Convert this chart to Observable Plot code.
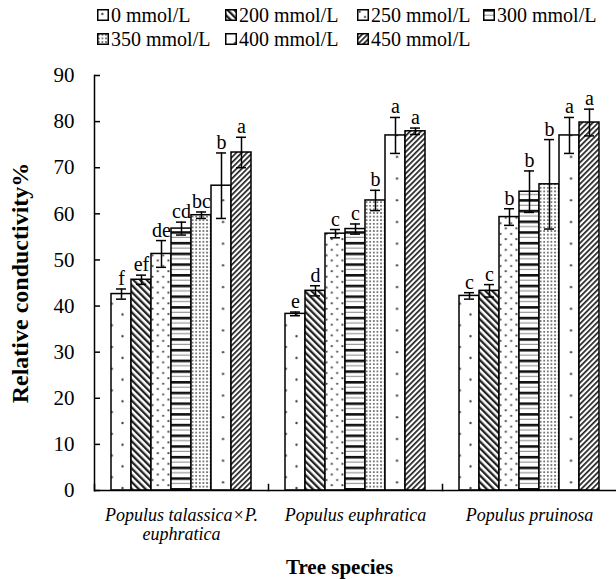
<!DOCTYPE html>
<html>
<head>
<meta charset="utf-8">
<script src="https://cdn.jsdelivr.net/npm/d3@7"></script>
<script src="https://cdn.jsdelivr.net/npm/@observablehq/plot@0.6"></script>
<style>
  body { margin: 0; background: #fff; }
  #wrap, #wrap * { font-family: 'Liberation Serif', 'Times New Roman', serif !important; }
  #wrap { width: 616px; height: 579px; position: relative; overflow: hidden; }
  #legend { height: 60px; box-sizing: border-box; padding-top: 3px; padding-left: 97px;
            display: grid; grid-template-columns: 128px 132px 126px 130px; grid-auto-rows: 24px; }
  .item { display: flex; align-items: center; font-size: 20px; line-height: 24px; white-space: nowrap; color: #000; }
  .item svg { margin-right: 2px; flex: none; }
</style>
</head>
<body>
<div id="wrap">
  <svg width="0" height="0" style="position:absolute">
    <defs>
      <pattern id="p0" patternUnits="userSpaceOnUse" width="21.3" height="21.7">
        <rect width="21.3" height="21.7" fill="#fff"/>
        <circle cx="5.3" cy="5" r="1.2" fill="#444"/>
        <circle cx="16" cy="15.8" r="1.2" fill="#444"/>
      </pattern>
      <pattern id="p200" patternUnits="userSpaceOnUse" width="4.8" height="4.8" patternTransform="rotate(-45)">
        <rect width="4.8" height="4.8" fill="#fff"/>
        <rect width="2.3" height="4.8" fill="#222"/>
      </pattern>
      <pattern id="p250" patternUnits="userSpaceOnUse" width="10.7" height="10.7">
        <rect width="10.7" height="10.7" fill="#fff"/>
        <circle cx="2.7" cy="2.7" r="1.1" fill="#444"/>
        <circle cx="8" cy="8" r="1.1" fill="#444"/>
      </pattern>
      <pattern id="p300" patternUnits="userSpaceOnUse" width="10" height="10.7">
        <rect width="10" height="10.7" fill="#fff"/>
        <rect y="0" width="10" height="2.6" fill="#111"/>
        <rect y="5.6" width="10" height="1.2" fill="#999"/>
      </pattern>
      <pattern id="p350" patternUnits="userSpaceOnUse" width="3.6" height="3.6">
        <rect width="3.6" height="3.6" fill="#fff"/>
        <circle cx="1.8" cy="1.8" r="0.95" fill="#555"/>
      </pattern>
      <pattern id="p400" patternUnits="userSpaceOnUse" width="21.3" height="21.7">
        <rect width="21.3" height="21.7" fill="#fff"/>
        <circle cx="10" cy="10" r="1.2" fill="#444"/>
      </pattern>
      <pattern id="p450" patternUnits="userSpaceOnUse" width="3.8" height="3.8" patternTransform="rotate(45)">
        <rect width="3.8" height="3.8" fill="#fff"/>
        <rect width="1.7" height="3.8" fill="#222"/>
      </pattern>
    </defs>
  </svg>
  <div id="legend"></div>
  <div id="chart"></div>
</div>
<script>
// ---- data ----
const species = ["Populus talassica×P. euphratica", "Populus euphratica", "Populus pruinosa"];
const speciesTickLabels = ["Populus talassica×P.\neuphratica", "Populus euphratica", "Populus pruinosa"];
const concentrations = ["0 mmol/L", "200 mmol/L", "250 mmol/L", "300 mmol/L", "350 mmol/L", "400 mmol/L", "450 mmol/L"];
const patternIds = ["p0", "p200", "p250", "p300", "p350", "p400", "p450"];

const valuesTalassica = [42.6, 45.7, 51.3, 56.8, 59.7, 66.1, 73.3];
const valuesEuphratica = [38.3, 43.3, 55.7, 56.7, 62.9, 77.0, 77.9];
const valuesPruinosa = [42.2, 43.3, 59.3, 64.8, 66.4, 77.0, 79.8];

const errorsTalassica = [1.1, 1.0, 2.9, 1.4, 0.7, 7.1, 3.3];
const errorsEuphratica = [0.4, 1.1, 0.9, 1.1, 2.2, 3.9, 0.7];
const errorsPruinosa = [0.7, 1.35, 1.8, 4.5, 9.7, 3.9, 2.9];

const lettersTalassica = ["f", "ef", "de", "cd", "bc", "b", "a"];
const lettersEuphratica = ["e", "d", "c", "c", "b", "a", "a"];
const lettersPruinosa = ["c", "c", "b", "b", "b", "a", "a"];

const yTicks = [0, 10, 20, 30, 40, 50, 60, 70, 80, 90];
const yTitle = "Relative conductivity%";
const xTitle = "Tree species";

// ---- build table ----
const seriesValues = [valuesTalassica, valuesEuphratica, valuesPruinosa];
const seriesErrors = [errorsTalassica, errorsEuphratica, errorsPruinosa];
const seriesLetters = [lettersTalassica, lettersEuphratica, lettersPruinosa];
const data = [];
species.forEach((s, i) => {
  concentrations.forEach((c, j) => {
    const v = seriesValues[i][j], e = seriesErrors[i][j];
    data.push({species: s, conc: c, value: v, lo: v - e, hi: v + e, letter: seriesLetters[i][j]});
  });
});
const tickLabelOf = new Map(species.map((s, i) => [s, speciesTickLabels[i]]));
const patternUrls = patternIds.map(id => `url(#${id})`);

// ---- legend ----
const legend = document.getElementById("legend");
concentrations.forEach((c, j) => {
  const it = document.createElement("div");
  it.className = "item";
  it.innerHTML = `<svg width="12" height="12"><rect x="0.75" y="0.75" width="10.5" height="10.5" fill="${patternUrls[j]}" stroke="#000" stroke-width="1.5"/></svg><span>${c}</span>`;
  legend.appendChild(it);
});

// ---- chart ----
const chart = Plot.plot({
  width: 616,
  height: 519,
  marginTop: 15,
  marginBottom: 89,
  marginLeft: 94,
  marginRight: 0,
  style: "font-family: 'Liberation Serif', serif; color: #000; background: #fff;",
  fx: {domain: species, padding: 0},
  x: {domain: concentrations, paddingInner: 0, paddingOuter: 0.68, axis: null},
  y: {domain: [0, 90]},
  color: {domain: concentrations, range: patternUrls},
  marks: [
    Plot.barY(data, {fx: "species", x: "conc", y: "value", fill: "conc", stroke: "#000", strokeWidth: 1.5}),
    Plot.ruleX(data, {fx: "species", x: "conc", y1: "lo", y2: "hi", stroke: "#000", strokeWidth: 1.5}),
    Plot.tickY(data, {fx: "species", x: "conc", y: "hi", stroke: "#000", strokeWidth: 1.5, insetLeft: 5, insetRight: 5}),
    Plot.tickY(data, {fx: "species", x: "conc", y: "lo", stroke: "#000", strokeWidth: 1.5, insetLeft: 5, insetRight: 5}),
    Plot.text(data, {fx: "species", x: "conc", y: "hi", text: "letter", lineAnchor: "bottom", dy: -4, fontSize: 20, fill: "#000"}),
    Plot.ruleY([0], {stroke: "#000", strokeWidth: 1.5}),
    Plot.frame({anchor: "left", facetAnchor: "left", stroke: "#000", strokeWidth: 1.5}),
    Plot.frame({anchor: "left", insetTop: 409, stroke: "#000", strokeWidth: 1.5}),
    Plot.axisY({ticks: yTicks, tickSize: -6, tickFormat: () => "", label: null, strokeWidth: 1.5}),
    Plot.axisY({ticks: yTicks, tickSize: 0, tickPadding: 20, fontSize: 21, label: null}),
    Plot.axisY({ticks: [], tickSize: 0, label: yTitle, labelAnchor: "center", labelOffset: 84, labelArrow: false, fontSize: 24, fontWeight: "bold"}),
    Plot.axisFx({anchor: "bottom", tickSize: 0, tickPadding: 17, fontSize: 18, lineHeight: 1.05, fontStyle: "italic", label: null, tickFormat: d => tickLabelOf.get(d)}),
    Plot.text([xTitle], {facet: "super", frameAnchor: "bottom", dy: 83, dx: -16, fontSize: 21, fontWeight: "bold", fill: "#000"})
  ]
});
document.getElementById("chart").appendChild(chart);
</script>
</body>
</html>
